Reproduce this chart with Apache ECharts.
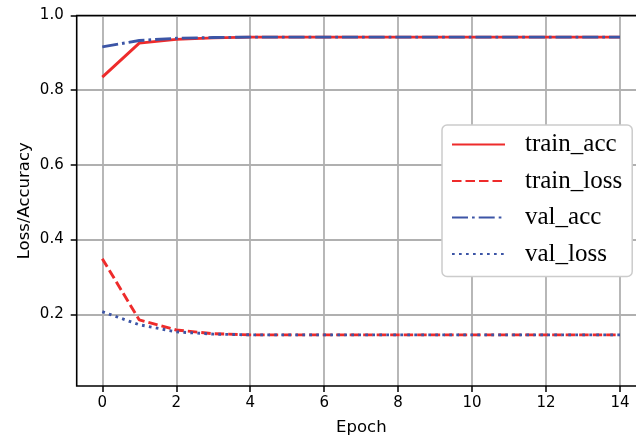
<!DOCTYPE html>
<html>
<head>
<meta charset="utf-8">
<script src="https://cdn.jsdelivr.net/npm/echarts@6/dist/echarts.min.js"></script>
<style>
html,body{margin:0;padding:0;background:#fff;}
#chart{width:636px;height:438px;}
</style>
</head>
<body>
<div id="chart"></div>
<script>
const epochs = [0,1,2,3,4,5,6,7,8,9,10,11,12,13,14];
const trainAcc  = [0.835,0.926,0.936,0.940,0.942,0.942,0.942,0.942,0.942,0.942,0.942,0.942,0.942,0.942,0.942];
const trainLoss = [0.349,0.185,0.158,0.148,0.145,0.145,0.145,0.145,0.145,0.145,0.145,0.145,0.145,0.145,0.145];
const valAcc    = [0.916,0.933,0.939,0.941,0.942,0.942,0.942,0.942,0.942,0.942,0.942,0.942,0.942,0.942,0.942];
const valLoss   = [0.207,0.172,0.153,0.147,0.145,0.145,0.145,0.145,0.145,0.145,0.145,0.145,0.145,0.145,0.145];
const xTicks = [0,2,4,6,8,10,12,14];
const yTicks = [0.2,0.4,0.6,0.8,1.0];

const RED = '#ee2b2b', BLUE = '#3c55a6';
const LW = 2.9;
const pairs = arr => epochs.map((e,i)=>[e, arr[i]]);

// pixel layout
const L = 76.7, T = 15.5, B = 386, X0 = 102.3, X14 = 620, Y02 = 314.3;
const W = 636, H = 438;
const ppu = (X14 - X0) / 14;
const xMin = -(X0 - L) / ppu;
const xMax = 14 + (W + 10 - X14) / ppu;
const yMin = 0.2 - (B - Y02) / (Y02 - T) * 0.8;

const chart = echarts.init(document.getElementById('chart'), null, {renderer:'canvas'});
const tickFont = {fontFamily:'DejaVu Sans', fontSize:15, color:'#000'};
const gridLine = {show:true, lineStyle:{color:'#b0b0b0', width:1.8}};
const tickStyle = {show:true, length:6, lineStyle:{color:'#000', width:1.5}};

chart.setOption({
  animation:false,
  backgroundColor:'#fff',
  grid:[
    {left:L, top:T, right:-10, bottom:H-B, outerBoundsMode:'none', containLabel:false, show:true, borderColor:'#000', borderWidth:1.6, backgroundColor:'transparent', z:3},
    {left:X0, top:T, right:W-X14, bottom:H-B, outerBoundsMode:'none', containLabel:false},
    {left:L, top:T, right:-10, bottom:H-Y02, outerBoundsMode:'none', containLabel:false}
  ],
  xAxis:[
    {type:'value', gridIndex:0, min:xMin, max:xMax, axisLine:{show:false}, axisTick:{show:false}, axisLabel:{show:false}, splitLine:{show:false},
     name:'Epoch', nameLocation:'middle', nameGap:33, nameTextStyle:{fontFamily:'DejaVu Sans', fontSize:16.5, color:'#000'}},
    {type:'value', gridIndex:1, min:xTicks[0], max:xTicks[xTicks.length-1], interval:2, axisLine:{show:false}, axisTick:tickStyle,
     axisLabel:Object.assign({margin:10}, tickFont), splitLine:gridLine},
    {type:'value', gridIndex:2, show:false, min:0, max:1}
  ],
  yAxis:[
    {type:'value', gridIndex:0, min:yMin, max:1.0, axisLine:{show:false}, axisTick:{show:false}, axisLabel:{show:false}, splitLine:{show:false},
     name:'Loss/Accuracy', nameLocation:'middle', nameGap:43, nameTextStyle:{fontFamily:'DejaVu Sans', fontSize:16.5, color:'#000'}},
    {type:'value', gridIndex:1, show:false, min:0, max:1},
    {type:'value', gridIndex:2, min:yTicks[0], max:yTicks[yTicks.length-1], interval:0.2, axisLine:{show:false}, axisTick:tickStyle,
     axisLabel:Object.assign({margin:13, formatter:v=>v.toFixed(1)}, tickFont), splitLine:gridLine}
  ],
  legend:{
    orient:'vertical', left:442, top:125,
    backgroundColor:'#fff', borderColor:'#cccccc', borderWidth:1.5, borderRadius:5,
    padding:[7,10,10,9], itemWidth:53, itemHeight:14, itemGap:11.5,
    itemStyle:{opacity:0},
    textStyle:{fontFamily:'Liberation Serif', fontSize:25, lineHeight:25, color:'#000', padding:[0,0,0,15]},
    data:['train_acc','train_loss','val_acc','val_loss']
  },
  series:[
    {name:'train_acc', type:'line', xAxisIndex:0, yAxisIndex:0, data:pairs(trainAcc), symbol:'none', clip:false,
     lineStyle:{color:RED, width:LW, type:'solid'}, itemStyle:{color:RED}},
    {name:'train_loss', type:'line', xAxisIndex:0, yAxisIndex:0, data:pairs(trainLoss), symbol:'none', clip:false,
     lineStyle:{color:RED, width:LW, type:[9.5,4]}, itemStyle:{color:RED}},
    {name:'val_acc', type:'line', xAxisIndex:0, yAxisIndex:0, data:pairs(valAcc), symbol:'none', clip:false,
     lineStyle:{color:BLUE, width:LW, type:[16,4,2.7,4]}, itemStyle:{color:BLUE}},
    {name:'val_loss', type:'line', xAxisIndex:0, yAxisIndex:0, data:pairs(valLoss), symbol:'none', clip:false,
     lineStyle:{color:BLUE, width:LW, type:[2.7,4.3]}, itemStyle:{color:BLUE}}
  ]
});
</script>
</body>
</html>
